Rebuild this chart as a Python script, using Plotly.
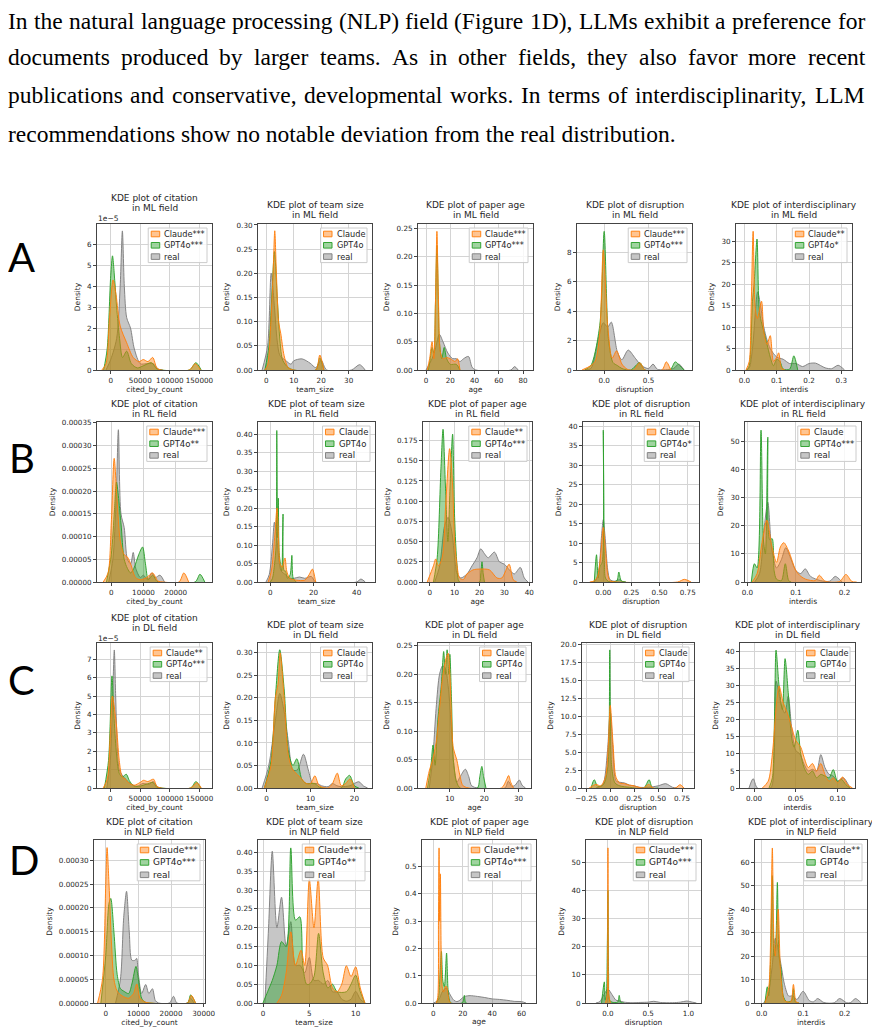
import plotly.graph_objects as go
from plotly.subplots import make_subplots

# ---- text above the figure ----
PARAGRAPH = [
    "In the natural language processing (NLP) field (Figure 1D), LLMs exhibit a preference for",
    "documents produced by larger teams. As in other fields, they also favor more recent",
    "publications and conservative, developmental works. In terms of interdisciplinarity, LLM",
    "recommendations show no notable deviation from the real distribution.",
]
ROW_LETTERS = ["A", "B", "C", "D"]
FIELDS = ["ML", "RL", "DL", "NLP"]
METRICS = ["citation", "team size", "paper age", "disruption", "interdisciplinary"]
X_LABELS = ["cited_by_count", "team_size", "age", "disruption", "interdis"]

CLAUDE_TAGS = [
    ["Claude***", "Claude", "Claude***", "Claude***", "Claude**"],
    ["Claude***", "Claude", "Claude**", "Claude", "Claude"],
    ["Claude**", "Claude", "Claude", "Claude", "Claude"],
    ["Claude***", "Claude***", "Claude***", "Claude***", "Claude**"],
]
GPT_TAGS = [
    ["GPT4o***", "GPT4o", "GPT4o***", "GPT4o***", "GPT4o*"],
    ["GPT4o**", "GPT4o", "GPT4o***", "GPT4o*", "GPT4o***"],
    ["GPT4o***", "GPT4o", "GPT4o", "GPT4o", "GPT4o"],
    ["GPT4o***", "GPT4o**", "GPT4o***", "GPT4o***", "GPT4o"],
]

# ---- KDE curves: (x, density) ----
# ML citation (density in units of 1e-5)
ML_CIT_CLAUDE = [(-15000, 0), (-8000, 0.3), (-2000, 2.5), (4000, 4.3), (9000, 3.6), (16000, 2.1), (27000, 1.3), (38000, 0.6), (48000, 0.4), (55000, 0.5), (63000, 0.4), (71000, 0.6), (78000, 0.1), (85000, 0), (133000, 0), (143000, 0.3), (152000, 0)]
ML_CIT_GPT = [(-12000, 0), (-6000, 1.0), (0, 4.5), (3000, 5.45), (7000, 4.2), (10000, 3.0), (15000, 1.5), (20000, 0.6), (27000, 0.9), (35000, 0.3), (45000, 0.1), (55000, 0.2), (69000, 0.35), (78000, 0.05), (85000, 0), (133000, 0), (144000, 0.35), (153000, 0)]
ML_CIT_REAL = [(-8000, 0), (0, 0.5), (10000, 1.5), (16000, 4.0), (19700, 6.64), (23000, 4.0), (27000, 2.5), (33500, 2.0), (40000, 1.0), (50000, 0.3), (60000, 0.3), (72000, 0.3), (80000, 0.05), (88000, 0)]
# ML team size
ML_TEAM_CLAUDE = [(-0.5, 0), (0.5, 0.01), (1.5, 0.08), (2.5, 0.2), (3.1, 0.288), (3.7, 0.2), (4.5, 0.1), (5.3, 0.075), (6.5, 0.03), (8, 0.005), (10, 0), (18, 0), (19.5, 0.031), (21, 0)]
ML_TEAM_GPT = [(-0.5, 0), (1, 0.05), (2, 0.15), (3, 0.245), (4, 0.15), (5, 0.06), (6, 0.02), (8, 0.005), (10, 0), (18, 0), (19.5, 0.025), (21, 0)]
ML_TEAM_REAL = [(-1.5, 0), (0.5, 0.05), (1.8, 0.2), (3, 0.13), (4, 0.06), (5, 0.03), (7, 0.02), (9, 0.012), (10, 0.019), (13, 0.023), (16, 0.014), (18, 0.005), (20, 0.02), (22, 0), (31, 0), (34, 0.011), (36, 0)]
# ML paper age
ML_AGE_CLAUDE = [(1, 0), (3, 0.02), (5, 0.05), (6.5, 0.02), (7.8, 0.12), (9, 0.245), (10.3, 0.12), (12, 0.03), (14, 0.02), (17, 0.022), (20, 0.02), (24, 0.015), (26, 0.02), (28, 0)]
ML_AGE_GPT = [(2, 0), (3.5, 0.02), (5, 0.04), (6.5, 0.03), (7.8, 0.12), (9, 0.22), (10.2, 0.12), (11, 0.05), (13, 0.02), (15, 0.04), (17, 0.02), (20, 0.01), (25, 0.01), (28, 0)]
ML_AGE_REAL = [(0, 0), (5, 0.02), (8, 0.04), (11, 0.063), (14, 0.05), (18, 0.03), (22, 0.02), (25, 0.02), (28, 0.015), (31, 0.02), (35, 0.024), (38, 0.005), (41, 0), (70, 0), (73, 0.006), (76, 0)]
# ML disruption
ML_DIS_CLAUDE = [(-0.25, 0), (-0.15, 0.3), (-0.1, 0.6), (-0.05, 2.5), (-0.01, 8.15), (0.04, 3.0), (0.09, 0.8), (0.14, 1.3), (0.2, 0.4), (0.26, 0.05), (0.33, 0), (0.4, 0.5), (0.46, 0), (0.65, 0), (0.7, 0.55), (0.75, 0)]
ML_DIS_GPT = [(-0.22, 0), (-0.15, 0.3), (-0.05, 3.0), (0.0, 9.4), (0.05, 2.0), (0.1, 0.5), (0.15, 0.3), (0.2, 0.1), (0.3, 0), (0.4, 0.5), (0.46, 0), (0.74, 0), (0.8, 0.55), (0.85, 0.3), (0.9, 0)]
ML_DIS_REAL = [(-0.22, 0), (-0.15, 0.1), (-0.07, 2.0), (-0.01, 3.2), (0.04, 2.9), (0.08, 3.25), (0.15, 1.2), (0.2, 0.7), (0.27, 1.35), (0.35, 0.8), (0.42, 0.3), (0.5, 0.1), (0.55, 0.4), (0.6, 0.05), (0.78, 0.1), (0.84, 0.4), (0.9, 0)]
# ML interdisciplinarity
ML_INT_CLAUDE = [(0.005, 0), (0.015, 2), (0.021, 15), (0.027, 32.3), (0.033, 15), (0.04, 12), (0.053, 16), (0.06, 9), (0.07, 6), (0.08, 8), (0.09, 2), (0.1, 3), (0.106, 4), (0.115, 0.5), (0.125, 0)]
ML_INT_GPT = [(0.008, 0), (0.015, 1), (0.025, 16), (0.03, 20), (0.039, 30.5), (0.045, 15), (0.05, 12), (0.06, 9), (0.07, 6), (0.08, 3), (0.09, 1), (0.1, 2.5), (0.11, 2), (0.12, 0.2), (0.14, 0.2), (0.153, 3.3), (0.165, 0)]
ML_INT_REAL = [(0.005, 0), (0.015, 0.5), (0.025, 5), (0.041, 18.2), (0.05, 15), (0.06, 10), (0.07, 7), (0.08, 5), (0.1, 3), (0.12, 2.5), (0.14, 1.5), (0.16, 1.5), (0.18, 0.8), (0.2, 1.5), (0.22, 1.6), (0.25, 0.5), (0.27, 0.3), (0.29, 1.1), (0.31, 0)]

# RL citation
RL_CIT_CLAUDE = [(-2500, 0), (-1000, 0.00002), (0, 0.00013), (900, 0.000272), (1800, 0.00018), (2800, 0.00009), (4000, 0.00006), (5000, 0.000055), (6000, 0.00004), (7500, 0.00001), (9000, 0.000005), (11000, 0.00001), (12800, 0.00002), (14500, 0.000002), (16000, 0), (21000, 0), (22500, 0.00002), (24000, 0)]
RL_CIT_GPT = [(-1500, 0), (0, 0.00006), (1000, 0.00016), (1600, 0.00022), (3000, 0.00013), (4000, 0.00005), (5000, 0.00003), (6000, 0.00002), (7000, 0.00003), (8500, 0.00006), (9700, 0.000077), (10600, 0.00004), (11500, 0.000005), (12800, 0.000015), (14500, 0), (26000, 0), (27500, 0.000017), (29000, 0)]
RL_CIT_REAL = [(-800, 0), (500, 0.00005), (1500, 0.00018), (2200, 0.000335), (3000, 0.00015), (4000, 0.00012), (5000, 0.00005), (6000, 0.00004), (6800, 0.000065), (7600, 0.00003), (9000, 0.00001), (10000, 0.000015), (11200, 0.000005), (12600, 0.00002), (13700, 0.00001), (15100, 0.000015), (16500, 0)]
# RL team size
RL_TEAM_CLAUDE = [(-1, 0), (0.5, 0.03), (2, 0.12), (3.1, 0.2), (3.8, 0.12), (4.5, 0.05), (5.5, 0.04), (6.8, 0.065), (7.6, 0.03), (9, 0.01), (12, 0.005), (16, 0.005), (18, 0.02), (19.5, 0.035), (21, 0)]
RL_TEAM_GPT = [(0, 0), (1, 0.01), (2, 0.05), (2.7, 0.1), (3.0, 0.41), (3.35, 0.12), (3.7, 0.227), (4.1, 0.08), (4.7, 0.05), (5.3, 0.03), (5.9, 0.184), (6.4, 0.03), (7, 0.03), (8, 0.01), (9.2, 0.02), (10, 0.072), (10.6, 0.01), (12, 0)]
RL_TEAM_REAL = [(-2, 0), (-0.5, 0.02), (1, 0.1), (1.9, 0.162), (3, 0.12), (4, 0.06), (5, 0.03), (7, 0.02), (9, 0.01), (11, 0.01), (13.5, 0.0135), (16, 0.01), (19, 0.015), (21, 0), (40, 0), (42, 0.008), (44, 0)]
# RL paper age
RL_AGE_CLAUDE = [(-1, 0), (1.5, 0.02), (2.4, 0.0285), (3.5, 0.02), (5, 0.03), (6.5, 0.1), (8, 0.165), (9.2, 0.12), (10, 0.05), (11, 0.02), (12, 0.005), (13.5, 0.003), (15, 0.01), (17.4, 0.015), (20, 0.016), (24, 0.015), (27, 0.005), (29, 0.005), (31.9, 0.022), (33.5, 0.003), (35, 0)]
RL_AGE_GPT = [(1.5, 0), (3, 0.03), (4.5, 0.14), (5.35, 0.189), (6.3, 0.12), (7.3, 0.05), (8.2, 0.12), (9.2, 0.183), (10, 0.08), (11, 0.02), (12, 0), (20, 0), (20.5, 0.01), (21, 0.025), (21.5, 0.01), (22, 0)]
RL_AGE_REAL = [(2, 0), (4, 0.02), (6, 0.07), (7.4, 0.08), (9, 0.06), (10, 0.03), (11, 0.01), (12.5, 0.005), (15, 0.01), (17, 0.02), (19, 0.03), (20.5, 0.041), (22, 0.035), (23.5, 0.03), (26, 0.037), (28, 0.025), (30, 0.022), (32, 0.015), (34, 0.01), (36.4, 0.018), (38, 0.005), (39.5, 0)]
# RL disruption
RL_DIS_CLAUDE = [(-0.12, 0), (-0.08, 0.3), (-0.05, 1.5), (-0.02, 8), (0, 14), (0.02, 8), (0.04, 2), (0.06, 0.3), (0.1, 0.05), (0.66, 0), (0.72, 0.68), (0.78, 0)]
RL_DIS_GPT = [(-0.08, 0), (-0.06, 7.0), (-0.045, 1), (-0.03, 4), (-0.01, 5), (0.0, 39), (0.01, 5), (0.02, 1), (0.05, 0.1), (0.12, 0.3), (0.138, 2.56), (0.16, 0.3), (0.2, 0)]
RL_DIS_REAL = [(-0.1, 0), (-0.07, 0.3), (-0.04, 3), (-0.015, 12), (0, 16), (0.015, 12), (0.04, 3), (0.06, 0.6), (0.1, 0.2), (0.145, 0.6), (0.17, 0.1), (0.2, 0)]
# RL interdisciplinarity
RL_INT_CLAUDE = [(0.01, 0), (0.02, 3), (0.03, 14), (0.04, 22), (0.05, 13), (0.06, 7), (0.068, 12.5), (0.075, 14), (0.085, 11), (0.1, 4), (0.11, 2), (0.12, 1), (0.14, 0.5), (0.148, 2.4), (0.16, 0.3), (0.19, 0.2), (0.203, 2.7), (0.215, 0.2), (0.225, 0)]
RL_INT_GPT = [(0.008, 0), (0.0144, 6.5), (0.02, 5), (0.028, 54), (0.033, 15), (0.037, 10), (0.042, 51.5), (0.046, 15), (0.051, 15.4), (0.055, 4), (0.06, 1), (0.07, 0.5), (0.078, 6.5), (0.085, 0.5), (0.09, 0)]
RL_INT_REAL = [(0.015, 0), (0.025, 3), (0.035, 20), (0.042, 28.4), (0.05, 12), (0.06, 5), (0.07, 8), (0.079, 12.2), (0.09, 8), (0.1, 4), (0.11, 3), (0.119, 4.7), (0.13, 2), (0.15, 0.5), (0.17, 0.3), (0.181, 2), (0.195, 0)]

# DL citation (density in units of 1e-5)
DL_CIT_CLAUDE = [(-12000, 0), (-5000, 0.5), (0, 3), (3400, 5.0), (10000, 3.5), (15000, 1.5), (20000, 0.6), (25000, 0.5), (30000, 0.3), (40000, 0.15), (50000, 0.3), (56000, 0.42), (63000, 0.35), (72800, 0.48), (78000, 0.1), (85000, 0), (135000, 0), (145600, 0.29), (153000, 0)]
DL_CIT_GPT = [(-10000, 0), (-3000, 1.5), (2800, 6.1), (6000, 4), (10000, 2), (15000, 0.8), (20000, 0.6), (26900, 0.75), (32000, 0.4), (40000, 0.1), (50000, 0.1), (60000, 0.2), (71700, 0.3), (78000, 0.05), (85000, 0), (135000, 0), (144000, 0.35), (152000, 0)]
DL_CIT_REAL = [(-6000, 0), (0, 1.5), (4000, 5), (6700, 7.51), (9000, 5), (12000, 2), (15000, 1), (20000, 0.7), (25000, 0.5), (30000, 0.35), (35000, 0.2), (45000, 0.1), (55000, 0.25), (65000, 0.2), (72000, 0.35), (80000, 0.05), (86000, 0)]
# DL team size
DL_TEAM_CLAUDE = [(-0.5, 0), (1, 0.05), (2, 0.2), (2.6, 0.23), (3.1, 0.3), (4, 0.2), (5, 0.07), (6, 0.04), (7, 0.03), (8, 0.02), (9, 0.01), (10, 0.01), (11, 0.027), (12, 0.005), (14, 0), (15, 0.01), (16.1, 0.033), (17, 0.005), (18, 0.01), (19, 0.02), (20, 0)]
DL_TEAM_GPT = [(-0.5, 0), (1, 0.06), (2, 0.2), (3, 0.307), (4, 0.22), (5, 0.08), (6, 0.05), (6.9, 0.065), (8, 0.02), (9, 0.01), (11, 0.01), (12, 0.002), (17, 0), (18, 0.02), (18.9, 0.028), (20, 0.005), (21, 0)]
DL_TEAM_REAL = [(-1, 0), (0.5, 0.05), (2, 0.15), (3, 0.21), (4, 0.17), (5, 0.1), (6, 0.04), (7, 0.04), (8.4, 0.075), (9.5, 0.04), (10.5, 0.01), (11.5, 0.01), (12.5, 0.005), (14, 0.003), (15, 0.01), (16, 0.005), (17, 0.003), (19, 0.005), (21, 0.014), (22, 0.005), (23, 0)]
# DL paper age
DL_AGE_CLAUDE = [(3, 0), (4, 0.03), (5, 0.05), (6, 0.08), (7, 0.14), (8, 0.2), (9, 0.23), (9.5, 0.237), (10, 0.2), (10.5, 0.12), (11, 0.07), (12, 0.05), (13, 0.02), (14, 0.003), (25, 0), (26.5, 0.015), (27.1, 0.022), (27.7, 0.01), (28.5, 0)]
DL_AGE_GPT = [(3.5, 0), (4.5, 0.04), (5.1, 0.0756), (5.7, 0.04), (6.5, 0.12), (7.5, 0.18), (8.2, 0.24), (8.7, 0.2), (9.2, 0.243), (9.7, 0.2), (10, 0.235), (10.5, 0.15), (11, 0.05), (12, 0.01), (13, 0), (18, 0), (18.7, 0.02), (19.3, 0.038), (19.8, 0.02), (20.5, 0)]
DL_AGE_REAL = [(4, 0), (5, 0.05), (6, 0.14), (7, 0.2), (7.9, 0.215), (8.7, 0.21), (9.5, 0.18), (10.5, 0.1), (11, 0.05), (12, 0.01), (13, 0.02), (14.5, 0.033), (15.5, 0.02), (16.5, 0.003), (26, 0), (27, 0.012), (28, 0.003), (29, 0.005), (30.2, 0.014), (31, 0.005), (32, 0)]
# DL disruption
DL_DIS_CLAUDE = [(-0.22, 0), (-0.15, 0.5), (-0.1, 0.3), (-0.05, 1.5), (-0.02, 6), (0.0, 11.5), (0.03, 6), (0.06, 1.5), (0.1, 0.7), (0.15, 0.6), (0.2, 0.4), (0.25, 0.3), (0.3, 0.1), (0.35, 0), (0.4, 0.5), (0.45, 0), (0.68, 0), (0.73, 0.46), (0.77, 0)]
DL_DIS_GPT = [(-0.2, 0), (-0.167, 1.15), (-0.13, 0.2), (-0.07, 0.5), (-0.025, 3), (-0.005, 19.2), (0.015, 3), (0.05, 0.7), (0.1, 0.3), (0.2, 0.1), (0.35, 0), (0.406, 1.15), (0.44, 0), (0.5, 0)]
DL_DIS_REAL = [(-0.15, 0), (-0.08, 0.4), (-0.03, 5), (0.0, 10.6), (0.03, 5), (0.06, 1), (0.1, 0.8), (0.15, 0.7), (0.2, 0.4), (0.25, 0.3), (0.3, 0.1), (0.4, 0.1), (0.5, 0.3), (0.58, 0.6), (0.65, 0.1), (0.7, 0)]
# DL interdisciplinarity
DL_INT_CLAUDE = [(0.01, 0), (0.017, 2), (0.022, 10), (0.027, 25), (0.03, 30), (0.035, 25), (0.04, 22), (0.045, 18), (0.05, 14), (0.056, 12), (0.06, 9), (0.065, 6), (0.07, 7.2), (0.075, 5), (0.08, 7.2), (0.085, 4), (0.09, 2), (0.095, 3), (0.1, 1.5), (0.106, 3.2), (0.112, 1), (0.118, 0)]
DL_INT_GPT = [(0.018, 0), (0.022, 3), (0.0245, 20), (0.0264, 40.5), (0.03, 30), (0.034, 23), (0.0372, 38), (0.041, 28), (0.045, 15), (0.048, 12), (0.0524, 17), (0.056, 10), (0.06, 6), (0.065, 4), (0.07, 5), (0.075, 3), (0.08, 4), (0.085, 3.5), (0.09, 3), (0.095, 5.4), (0.1, 2), (0.105, 2.5), (0.11, 1), (0.115, 0)]
DL_INT_REAL = [(-0.006, 0), (-0.001, 2.75), (0.004, 0), (0.02, 0), (0.024, 8), (0.0264, 31.4), (0.033, 24), (0.037, 22), (0.041, 27), (0.045, 18), (0.05, 11), (0.055, 10), (0.06, 7), (0.065, 5), (0.07, 5.5), (0.075, 5), (0.08, 9.8), (0.085, 6), (0.09, 4), (0.095, 3.5), (0.1, 2), (0.107, 3), (0.115, 0)]

# NLP citation
NLP_CIT_CLAUDE = [(-2500, 0), (-1000, 0.00005), (0, 0.00025), (400, 0.000327), (1000, 0.00025), (1800, 0.00012), (2500, 0.00005), (3500, 0.000025), (5000, 0.000015), (7000, 0.00001), (8500, 0.00002), (9500, 0.00004), (10500, 0.00001), (12000, 0.000002), (13500, 0), (25000, 0), (26200, 0.000016), (27500, 0)]
NLP_CIT_GPT = [(-1500, 0), (0, 0.0001), (1000, 0.00021), (1540, 0.00022), (2500, 0.00015), (3500, 0.00006), (4500, 0.00003), (5500, 0.000025), (7000, 0.00002), (8000, 0.00004), (9250, 0.000077), (10000, 0.00005), (11000, 0.00001), (12000, 0.000002), (13500, 0), (25000, 0), (26000, 0.000017), (27500, 0)]
NLP_CIT_REAL = [(3000, 0), (4500, 0.00005), (5500, 0.00018), (6370, 0.000235), (7200, 0.00015), (8000, 0.00009), (9000, 0.00009), (9460, 0.000094), (10000, 0.00006), (11000, 0.00002), (12230, 0.000039), (13200, 0.00002), (14300, 0.00003), (15200, 0.000005), (16200, 0), (19500, 0), (20760, 0.000014), (21800, 0), (25000, 0), (26000, 0.00001), (27000, 0)]
# NLP team size
NLP_TEAM_CLAUDE = [(1.5, 0), (2, 0.02), (2.5, 0.08), (3, 0.189), (3.5, 0.1), (4.1, 0.14), (4.5, 0.1), (5, 0.329), (5.5, 0.2), (5.96, 0.33), (6.5, 0.12), (6.97, 0.1), (7.5, 0.04), (8, 0.03), (8.5, 0.05), (9, 0.099), (9.5, 0.07), (10, 0.096), (10.5, 0.04), (11, 0)]
NLP_TEAM_GPT = [(0, 0), (0.5, 0.03), (1, 0.06), (1.5, 0.1), (2, 0.163), (2.5, 0.15), (3, 0.412), (3.5, 0.22), (3.97, 0.229), (4.3, 0.1), (4.7, 0.05), (5, 0.05), (5.5, 0.07), (6, 0.185), (6.5, 0.08), (7, 0.04), (7.5, 0.05), (8, 0.03), (9, 0.03), (9.5, 0.05), (10, 0.074), (10.5, 0.03), (11, 0)]
NLP_TEAM_REAL = [(0.2, 0), (0.6, 0.2), (1, 0.403), (1.5, 0.2), (2, 0.281), (2.5, 0.15), (3, 0.216), (3.5, 0.1), (4, 0.1), (4.5, 0.08), (5, 0.121), (5.5, 0.06), (6, 0.06), (6.5, 0.05), (7, 0.06), (7.5, 0.03), (8, 0.029), (8.5, 0.01), (9, 0.005), (9.5, 0.01), (10, 0.031), (10.5, 0.01), (11, 0)]
# NLP paper age
NLP_AGE_CLAUDE = [(2, 0), (3, 0.02), (3.5, 0.3), (3.9, 0.568), (4.3, 0.3), (4.8, 0.473), (5.3, 0.2), (6, 0.06), (7, 0.04), (8, 0.06), (9, 0.06), (10, 0.03), (11, 0.005), (12, 0)]
NLP_AGE_GPT = [(2, 0), (3.5, 0.02), (4.5, 0.1), (5.5, 0.189), (6.5, 0.08), (7.5, 0.06), (9, 0.183), (10, 0.05), (11, 0.01), (12, 0), (19.5, 0), (20.5, 0.01), (21.1, 0.028), (21.7, 0.005), (22.5, 0)]
NLP_AGE_REAL = [(0, 0), (2, 0.005), (4, 0.015), (6, 0.04), (8.7, 0.055), (10, 0.045), (12, 0.025), (14, 0.01), (16, 0.005), (18, 0.01), (20, 0.02), (22, 0.025), (25, 0.027), (30, 0.024), (35, 0.02), (40, 0.015), (45, 0.013), (50, 0.01), (55, 0.006), (60, 0.005), (63, 0)]
# NLP disruption
NLP_DIS_CLAUDE = [(-0.03, 0), (-0.01, 3), (0, 55.1), (0.01, 3), (0.03, 0)]
NLP_DIS_GPT = [(-0.08, 0), (-0.045, 7.5), (-0.035, 1), (-0.02, 3), (-0.008, 20), (0.0, 40), (0.008, 10), (0.02, 1), (0.05, 0.3), (0.12, 0.3), (0.14, 2.7), (0.16, 0.2), (0.2, 0)]
NLP_DIS_REAL = [(-0.15, 0), (-0.1, 0.5), (-0.05, 3), (0, 4.9), (0.05, 3), (0.1, 1), (0.15, 0.7), (0.2, 0.3), (0.3, 0.1), (0.4, 0.2), (0.5, 0.3), (0.57, 0.6), (0.65, 0.2), (0.8, 0.1), (0.9, 0.3), (0.98, 0.7), (1.05, 0.3), (1.1, 0)]
# NLP interdisciplinarity
NLP_INT_CLAUDE = [(0.008, 0), (0.013, 3), (0.018, 8), (0.022, 30), (0.0258, 66.1), (0.03, 25), (0.033, 20), (0.036, 30), (0.04, 40), (0.045, 15), (0.05, 5), (0.055, 1), (0.07, 0.5), (0.0766, 7.9), (0.083, 0.5), (0.09, 0)]
NLP_INT_GPT = [(0.008, 0), (0.0137, 6.9), (0.017, 3), (0.022, 20), (0.0258, 54.3), (0.03, 20), (0.034, 25), (0.0379, 51.4), (0.042, 20), (0.047, 14), (0.052, 3), (0.06, 0.5), (0.072, 1), (0.0766, 6.1), (0.081, 0.5), (0.09, 0)]
NLP_INT_REAL = [(0.005, 0), (0.015, 3), (0.025, 15), (0.033, 27.6), (0.045, 18), (0.055, 8), (0.065, 3), (0.075, 3), (0.085, 1.5), (0.1, 5), (0.115, 1), (0.125, 0.5), (0.135, 1.9), (0.15, 0.2), (0.175, 0.1), (0.188, 1.9), (0.205, 0.1), (0.215, 0.2), (0.226, 1.9), (0.24, 0)]

CURVES = [
    [(ML_CIT_CLAUDE, ML_CIT_GPT, ML_CIT_REAL), (ML_TEAM_CLAUDE, ML_TEAM_GPT, ML_TEAM_REAL), (ML_AGE_CLAUDE, ML_AGE_GPT, ML_AGE_REAL), (ML_DIS_CLAUDE, ML_DIS_GPT, ML_DIS_REAL), (ML_INT_CLAUDE, ML_INT_GPT, ML_INT_REAL)],
    [(RL_CIT_CLAUDE, RL_CIT_GPT, RL_CIT_REAL), (RL_TEAM_CLAUDE, RL_TEAM_GPT, RL_TEAM_REAL), (RL_AGE_CLAUDE, RL_AGE_GPT, RL_AGE_REAL), (RL_DIS_CLAUDE, RL_DIS_GPT, RL_DIS_REAL), (RL_INT_CLAUDE, RL_INT_GPT, RL_INT_REAL)],
    [(DL_CIT_CLAUDE, DL_CIT_GPT, DL_CIT_REAL), (DL_TEAM_CLAUDE, DL_TEAM_GPT, DL_TEAM_REAL), (DL_AGE_CLAUDE, DL_AGE_GPT, DL_AGE_REAL), (DL_DIS_CLAUDE, DL_DIS_GPT, DL_DIS_REAL), (DL_INT_CLAUDE, DL_INT_GPT, DL_INT_REAL)],
    [(NLP_CIT_CLAUDE, NLP_CIT_GPT, NLP_CIT_REAL), (NLP_TEAM_CLAUDE, NLP_TEAM_GPT, NLP_TEAM_REAL), (NLP_AGE_CLAUDE, NLP_AGE_GPT, NLP_AGE_REAL), (NLP_DIS_CLAUDE, NLP_DIS_GPT, NLP_DIS_REAL), (NLP_INT_CLAUDE, NLP_INT_GPT, NLP_INT_REAL)],
]
# panels whose y axis carries a 1e-5 offset label
SCALED = {(0, 0), (2, 0)}

# ---- axis settings ----
X_TICKS = [
    [[0, 50000, 100000, 150000], [0, 10, 20, 30], [0, 20, 40, 60, 80], [0, 0.5], [0, 0.1, 0.2, 0.3]],
    [[0, 10000, 20000], [0, 20, 40], [0, 10, 20, 30, 40], [0, 0.25, 0.5, 0.75], [0, 0.1, 0.2]],
    [[0, 50000, 100000, 150000], [0, 10, 20], [10, 20, 30], [-0.25, 0, 0.25, 0.5, 0.75], [0, 0.05, 0.1]],
    [[0, 10000, 20000, 30000], [0, 5, 10], [0, 20, 40, 60], [0, 0.5, 1.0], [0, 0.1, 0.2]],
]
X_FMT = [
    ["d", "d", "d", ".1f", ".1f"],
    ["d", "d", "d", ".2f", ".1f"],
    ["d", "d", "d", ".2f", ".2f"],
    ["d", "d", "d", ".1f", ".1f"],
]
X_RANGE = [
    [(-23200, 171300), (-3.0, 38.5), (-6.6, 88.2), (-0.306, 0.989), (-0.026, 0.333)],
    [(-4430, 31240), (-5.7, 48.5), (-2.7, 41.1), (-0.18, 0.85), (-0.005, 0.234)],
    [(-22400, 171000), (-1.95, 24), (0.73, 33.6), (-0.295, 0.875), (-0.0168, 0.121)],
    [(-3600, 30400), (-0.54, 11.55), (-7.7, 69.8), (-0.273, 1.157), (-0.016, 0.254)],
]
Y_DTICK = [
    [1, 0.05, 0.05, 2, 5],
    [0.00005, 0.05, 0.025, 5, 10],
    [1, 0.05, 0.05, 2.5, 5],
    [0.00005, 0.05, 0.1, 10, 10],
]
Y_FMT = [
    ["d", ".2f", ".2f", "d", "d"],
    [".5f", ".2f", ".3f", "d", "d"],
    ["d", ".2f", ".2f", ".1f", "d"],
    [".5f", ".2f", ".1f", "d", "d"],
]
Y_TOP = [
    [6.97, 0.302, 0.258, 9.9, 34.0],
    [0.000352, 0.433, 0.198, 41.1, 56.9],
    [7.89, 0.322, 0.255, 20.16, 42.6],
    [0.000343, 0.433, 0.597, 57.9, 69.5],
]

# panel boxes in page pixels: left, right, top, bottom
BOXES = [
    [(97, 212, 224, 370), (258, 372, 224, 370), (418, 533, 224, 370), (577, 692, 224, 370), (736, 852, 224, 370)],
    [(97, 212, 422, 582), (258, 375, 422, 582), (423, 532, 422, 582), (583, 699, 422, 582), (745, 861, 422, 582)],
    [(97, 212, 643, 788), (258, 372, 643, 788), (418, 531, 643, 788), (582, 694, 643, 788), (740, 855, 643, 788)],
    [(94, 205, 840, 1003), (258, 370, 840, 1003), (422, 536, 840, 1003), (586, 701, 840, 1003), (755, 867, 840, 1003)],
]
LETTER_POS = [(22, 257), (22, 458), (22, 680), (24, 860)]
LEGEND_GAP = [11.3, 11.7, 11.3, 12.4]
PARA_Y = [21.5, 56.7, 95.4, 134.1]

W, H = 880, 1034
PAGE_PAD = 8  # the page body puts the figure 8px in from the corner
CLAUDE_C = (255, 127, 14)
GPT_C = (44, 160, 44)
REAL_C = (128, 128, 128)
FILL_A = 0.45
FONT = "DejaVu Sans"
TXT = "#262626"
SERIF = "Liberation Serif"
SERIF_SIZE = 23.5
TEXT_LEFT, TEXT_RIGHT = 6, 863

CHAR_W = {"C": .698, "l": .278, "a": .613, "u": .634, "d": .635, "e": .615, "G": .775,
          "P": .603, "T": .611, "4": .636, "o": .612, "*": .5, "r": .411}
# Times-compatible advance widths (per em) for justifying the paragraph
SERIF_W = {
    "a": .444, "b": .5, "c": .444, "d": .5, "e": .444, "f": .333, "g": .5, "h": .5, "i": .278,
    "j": .278, "k": .5, "l": .278, "m": .778, "n": .5, "o": .5, "p": .5, "q": .5, "r": .333,
    "s": .389, "t": .278, "u": .5, "v": .5, "w": .722, "x": .5, "y": .5, "z": .444,
    "A": .722, "D": .722, "F": .556, "I": .333, "L": .611, "M": .889, "N": .722, "P": .556,
    "(": .333, ")": .333, ",": .25, ".": .25, "1": .5,
}


def px(x):
    return (x - PAGE_PAD) / W


def py(y):
    return 1 - (y - PAGE_PAD) / H


def rgba(c, a):
    return "rgba(%d,%d,%d,%s)" % (c[0], c[1], c[2], a)


def text_w(s, size):
    return sum(CHAR_W.get(ch, .6) for ch in s) * size


def serif_w(s):
    return sum(SERIF_W.get(ch, .5) for ch in s) * SERIF_SIZE


def label(text, x, y, size, xanchor="center", family=FONT, color=TXT):
    return dict(text=text, x=px(x), y=py(y), xref="paper", yref="paper",
                xanchor=xanchor, yanchor="middle", showarrow=False,
                font=dict(size=size, family=family, color=color))


fig = make_subplots(rows=4, cols=5)
shapes = []
notes = []

for r in range(4):
    for c in range(5):
        claude, gpt, real = CURVES[r][c]
        for pts, col in ((real, REAL_C), (gpt, GPT_C), (claude, CLAUDE_C)):
            fig.add_trace(go.Scatter(
                x=[p[0] for p in pts], y=[p[1] for p in pts], mode="lines",
                line=dict(color=rgba(col, 0.95), width=1, shape="spline", smoothing=0.8),
                fill="tozeroy", fillcolor=rgba(col, FILL_A),
                showlegend=False, hoverinfo="skip"), row=r + 1, col=c + 1)

        L, R, T, B = BOXES[r][c]
        fig.update_xaxes(domain=[px(L), px(R)], range=list(X_RANGE[r][c]),
                         tickmode="array", tickvals=X_TICKS[r][c], tickformat=X_FMT[r][c],
                         title=dict(text=X_LABELS[c], font=dict(size=7.5, family=FONT, color=TXT), standoff=2),
                         row=r + 1, col=c + 1)
        fig.update_yaxes(domain=[py(B), py(T)], range=[0, Y_TOP[r][c]],
                         tick0=0, dtick=Y_DTICK[r][c], tickformat=Y_FMT[r][c],
                         title=dict(text="Density", font=dict(size=7.5, family=FONT, color=TXT), standoff=5),
                         row=r + 1, col=c + 1)

        # two-line title above the panel
        lift = 7 if (r, c) in SCALED else 0
        notes.append(label("KDE plot of %s" % METRICS[c], (L + R) / 2, T - 18.5 - lift, 9))
        notes.append(label("in %s field" % FIELDS[r], (L + R) / 2, T - 8.5 - lift, 9))
        if (r, c) in SCALED:
            notes.append(label("1e\u22125", L - 1, T - 5, 7.5, xanchor="left"))

        # legend box in the upper right corner
        gap = LEGEND_GAP[r]
        fs = 8.2 * gap / 11.3
        items = [(CLAUDE_TAGS[r][c], CLAUDE_C), (GPT_TAGS[r][c], GPT_C), ("real", REAL_C)]
        tw = max(text_w(s, fs) for s, _ in items)
        bx1 = R - 5
        bx0 = bx1 - (14 + tw + 4)
        by0 = T + 4
        by1 = by0 + 12 + 2 * gap
        shapes.append(dict(type="rect", xref="paper", yref="paper",
                           x0=px(bx0), x1=px(bx1), y0=py(by1), y1=py(by0),
                           fillcolor="rgba(255,255,255,0.8)", line=dict(color="#cccccc", width=1)))
        for k, (lab, col) in enumerate(items):
            cy = by0 + 6 + k * gap
            shapes.append(dict(type="rect", xref="paper", yref="paper",
                               x0=px(bx0 + 3), x1=px(bx0 + 11.5), y0=py(cy + 2.8), y1=py(cy - 2.8),
                               fillcolor=rgba(col, FILL_A), line=dict(color=rgba(col, 0.95), width=1)))
            notes.append(label(lab, bx0 + 14, cy, fs, xanchor="left"))

# row letters
for letter, (lx, ly) in zip(ROW_LETTERS, LETTER_POS):
    notes.append(label(letter, lx, ly, 40, family="Lato", color="black"))

# paragraph: first three lines justified word by word, last line left aligned
for k, line in enumerate(PARAGRAPH):
    ly = PARA_Y[k]
    if k == len(PARAGRAPH) - 1:
        notes.append(label(line, TEXT_LEFT, ly, SERIF_SIZE, xanchor="left", family=SERIF, color="black"))
        continue
    words = line.split(" ")
    widths = [serif_w(w) for w in words]
    space = (TEXT_RIGHT - TEXT_LEFT - sum(widths)) / (len(words) - 1)
    xpos = TEXT_LEFT
    for w, wd in zip(words, widths):
        notes.append(label(w, xpos, ly, SERIF_SIZE, xanchor="left", family=SERIF, color="black"))
        xpos += wd + space

axis_style = dict(showline=True, mirror=True, linecolor="#444444", linewidth=1,
                  ticks="outside", ticklen=3, tickwidth=1, tickcolor="#444444",
                  showgrid=True, gridcolor="#d4d4d4", gridwidth=0.8, zeroline=False,
                  automargin=False, tickangle=0,
                  tickfont=dict(size=7.2, family=FONT, color=TXT))
fig.update_xaxes(**axis_style)
fig.update_yaxes(**axis_style)

fig.update_layout(width=W, height=H, margin=dict(l=0, r=0, t=0, b=0, pad=0),
                  paper_bgcolor="white", plot_bgcolor="white",
                  shapes=shapes, annotations=notes, showlegend=False)

fig.write_html("out.html")
